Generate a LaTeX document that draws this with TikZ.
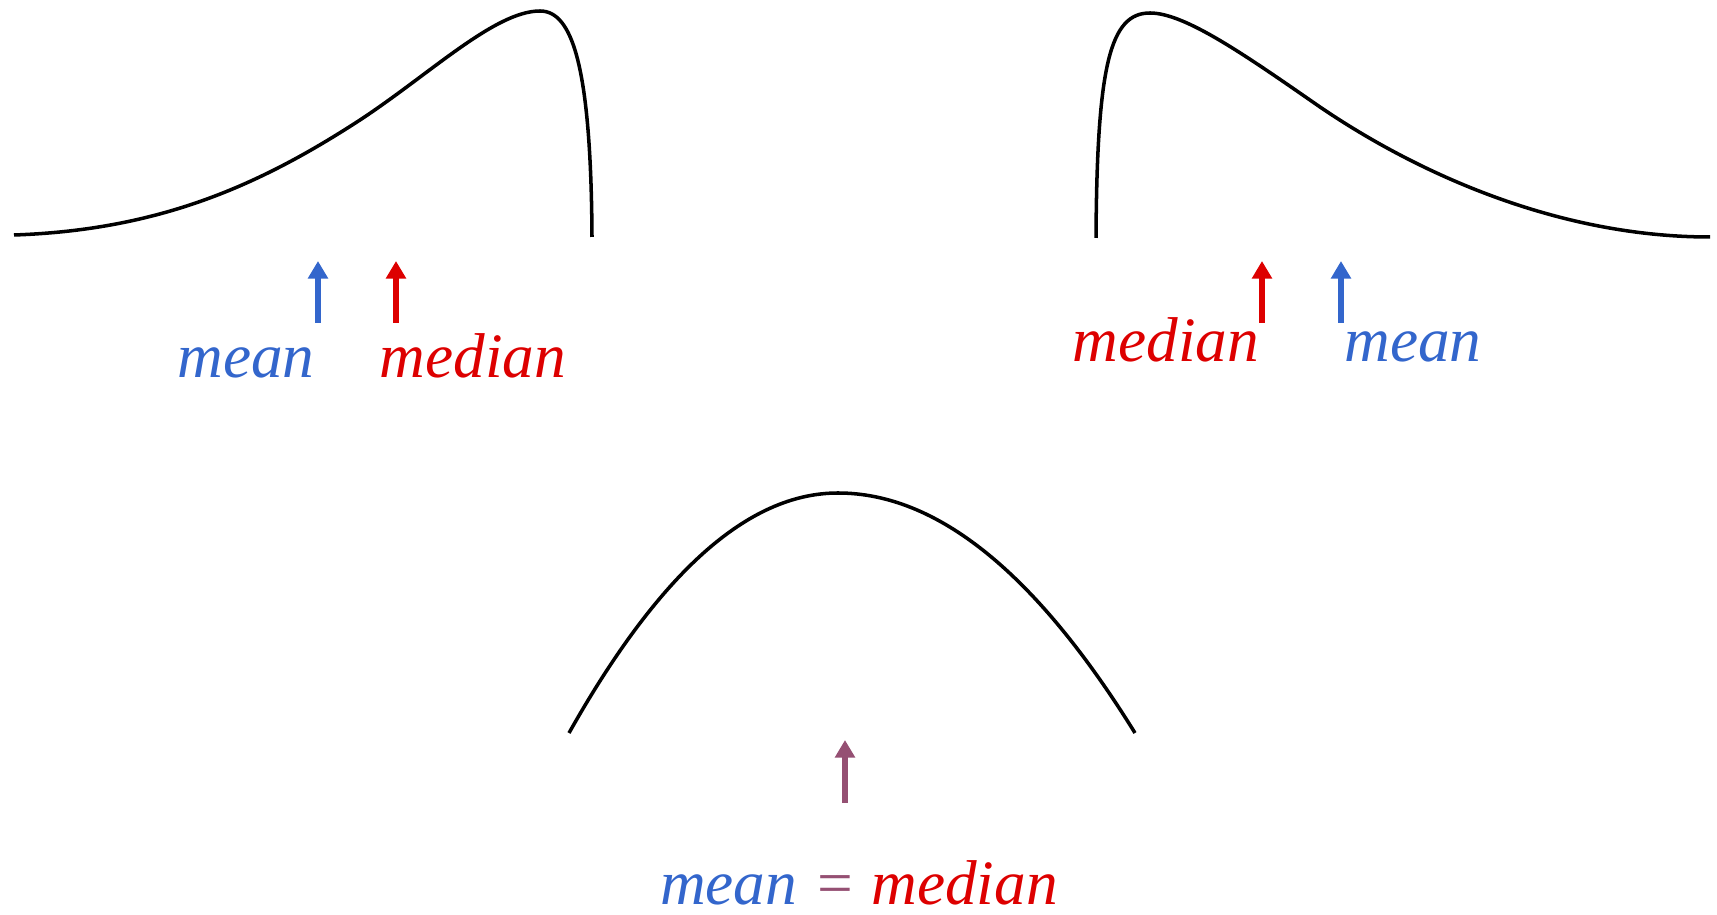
\documentclass[tikz,border=0pt]{standalone}
\usepackage{fontspec}
\setmainfont{Liberation Serif}
\usepackage{xcolor}
\usetikzlibrary{arrows.meta}
\definecolor{skblue}{HTML}{3366CC}
\definecolor{skred}{HTML}{DD0000}
\definecolor{skplum}{HTML}{955073}
\definecolor{skink}{HTML}{000000}
\tikzset{
  scurve/.style={draw=skink, line width=1pt},
  sarrow/.style={line width=1.6pt, -{Triangle[length=5pt,width=5.5pt]}},
  slabel/.style={anchor=base, inner sep=0pt, font=\fontsize{18}{20}\selectfont\itshape}
}
\begin{document}
\begin{tikzpicture}
  \useasboundingbox (0,0) rectangle (17.17,9.15);
  % left skew
  \draw[scurve] (0.14,6.80) .. controls (1.6,6.85) and (2.6,7.3) .. (3.6,7.95)
    .. controls (4.3,8.41) and (4.95,9.04) .. (5.40,9.04)
    .. controls (5.72,9.04) and (5.91,8.5) .. (5.92,6.78);
  \coordinate (lmeanA) at (3.18,5.92); \coordinate (lmeanB) at (3.18,6.54);
  \coordinate (lmedA) at (3.96,5.92); \coordinate (lmedB) at (3.96,6.54);
  \draw[sarrow, skblue] (lmeanA) -- (lmeanB);
  \draw[sarrow, skred] (lmedA) -- (lmedB);
  \node[slabel, skblue] (lmean) at (2.46,5.37) {mean};
  \node[slabel, skred] (lmed) at (4.73,5.37) {median};
  % right skew
  \draw[scurve] (10.96,6.77) .. controls (10.97,8.5) and (11.1,9.02) .. (11.50,9.02)
    .. controls (11.85,9.02) and (12.45,8.6) .. (13.2,8.08)
    .. controls (14.2,7.4) and (15.6,6.78) .. (17.10,6.78);
  \coordinate (rmedA) at (12.62,5.92); \coordinate (rmedB) at (12.62,6.54);
  \coordinate (rmeanA) at (13.41,5.92); \coordinate (rmeanB) at (13.41,6.54);
  \draw[sarrow, skred] (rmedA) -- (rmedB);
  \draw[sarrow, skblue] (rmeanA) -- (rmeanB);
  \node[slabel, skred] (rmed) at (11.66,5.53) {median};
  \node[slabel, skblue] (rmean) at (14.13,5.53) {mean};
  % symmetric
  \draw[scurve] (5.69,1.82) .. controls (6.59,3.42) and (7.48,4.22) .. (8.38,4.22)
    .. controls (9.37,4.22) and (10.36,3.42) .. (11.35,1.82);
  \coordinate (midA) at (8.45,1.12); \coordinate (midB) at (8.45,1.75);
  \draw[sarrow, skplum] (midA) -- (midB);
  \node[slabel] (mid) at (8.59,0.10) {\textcolor{skblue}{mean} \textcolor{skplum}{=} \textcolor{skred}{median}};
\end{tikzpicture}
\end{document}
